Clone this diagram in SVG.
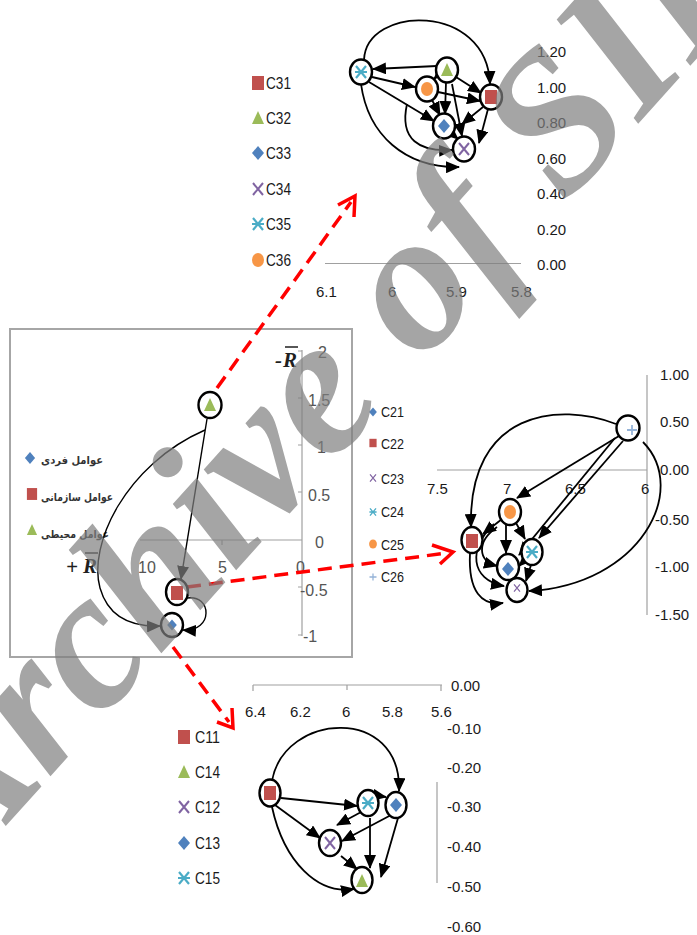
<svg xmlns="http://www.w3.org/2000/svg" xmlns:xlink="http://www.w3.org/1999/xlink" width="697" height="935" viewBox="0 0 697 935">
  <style>
    .node { fill: #ffffff; stroke: #000000; stroke-width: 2.4; }
    .edge { fill: none; stroke: #000000; stroke-width: 1.8; marker-end: url(#arrow); }
    .edge-thin { fill: none; stroke: #000000; stroke-width: 1.4; marker-end: url(#arrow); }
    .axis { stroke: #a0a0a0; stroke-width: 1.2; fill: none; }
    .lbl { font-family: "Liberation Sans", Arial, sans-serif; font-size: 15px; fill: #1a1a1a; }
    .lbl-grey { font-family: "Liberation Sans", Arial, sans-serif; font-size: 16px; fill: #555555; }
    .leg { font-family: "Liberation Sans", Arial, sans-serif; font-size: 16px; fill: #1a1a1a; }
    .leg-s { font-family: "Liberation Sans", Arial, sans-serif; font-size: 14px; fill: #1a1a1a; }
    .fa { font-family: "DejaVu Sans", sans-serif; font-size: 11px; font-weight: bold; fill: #333333; }
    .link { fill: none; stroke: #ff0000; stroke-width: 3.5; stroke-dasharray: 14 8; }
    .chev { fill: none; stroke: #ff0000; stroke-width: 3.5; }
    .rbar { font-family: "Liberation Serif", serif; font-size: 21px; font-weight: bold; font-style: italic; fill: #1f1f1f; }
  </style>
  <defs>
    <marker id="arrow" markerUnits="userSpaceOnUse" markerWidth="14" markerHeight="12" refX="13" refY="6" orient="auto">
      <path d="M0,0 L14,6 L0,12 z" fill="#000000"/>
    </marker>
    <g id="m-sq"><rect x="-6" y="-7" width="12" height="14" fill="#c0504d"/></g>
    <g id="m-tri"><polygon points="0,-7 6,6 -6,6" fill="#9bbb59"/></g>
    <g id="m-dia"><polygon points="0,-7 6,0 0,7 -6,0" fill="#4f81bd"/></g>
    <g id="m-x"><path d="M-5,-6 L5,6 M5,-6 L-5,6" stroke="#8064a2" stroke-width="2" fill="none"/></g>
    <g id="m-ast"><path d="M-5,-6 L5,6 M5,-6 L-5,6 M-6,0 L6,0" stroke="#4bacc6" stroke-width="2.2" fill="none"/></g>
    <g id="m-cir"><ellipse rx="6" ry="7" fill="#f79646"/></g>
    <g id="m-plus"><path d="M-5,0 L5,0 M0,-5 L0,5" stroke="#95b3d7" stroke-width="1.8" fill="none"/></g>
  </defs>

  <rect width="697" height="935" fill="#ffffff"/>

  <!-- ===== Chart C3x (top) ===== -->
  <g id="chart-c3">
    <line class="axis" x1="325" y1="263.5" x2="521" y2="263.5"/>
    <text class="lbl" x="537" y="57">1.20</text>
    <text class="lbl" x="537" y="93">1.00</text>
    <text class="lbl" x="537" y="128">0.80</text>
    <text class="lbl" x="537" y="164">0.60</text>
    <text class="lbl" x="537" y="199">0.40</text>
    <text class="lbl" x="537" y="235">0.20</text>
    <text class="lbl" x="537" y="270">0.00</text>
    <text class="lbl" x="316" y="297">6.1</text>
    <text class="lbl" x="388" y="297">6</text>
    <text class="lbl" x="446" y="297">5.9</text>
    <text class="lbl" x="511" y="297">5.8</text>
    <g id="legend-c3">
      <use href="#m-sq" x="258" y="83"/>
      <text class="leg" x="266" y="89" textLength="25" lengthAdjust="spacingAndGlyphs">C31</text>
      <use href="#m-tri" x="258" y="118"/>
      <text class="leg" x="266" y="124" textLength="25" lengthAdjust="spacingAndGlyphs">C32</text>
      <use href="#m-dia" x="258" y="153"/>
      <text class="leg" x="266" y="159" textLength="25" lengthAdjust="spacingAndGlyphs">C33</text>
      <use href="#m-x" x="258" y="189"/>
      <text class="leg" x="266" y="195" textLength="25" lengthAdjust="spacingAndGlyphs">C34</text>
      <use href="#m-ast" x="258" y="224"/>
      <text class="leg" x="266" y="230" textLength="25" lengthAdjust="spacingAndGlyphs">C35</text>
      <use href="#m-cir" x="258" y="260"/>
      <text class="leg" x="266" y="266" textLength="25" lengthAdjust="spacingAndGlyphs">C36</text>
    </g>
  </g>

  <!-- ===== Chart C2x (right) ===== -->
  <g id="chart-c2">
    <line class="axis" x1="437" y1="470" x2="647" y2="470"/>
    <line class="axis" x1="647" y1="375" x2="647" y2="615"/>
    <text class="lbl" x="660" y="380">1.00</text>
    <text class="lbl" x="660" y="427">0.50</text>
    <text class="lbl" x="660" y="475">0.00</text>
    <text class="lbl" x="655" y="525">-0.50</text>
    <text class="lbl" x="655" y="572">-1.00</text>
    <text class="lbl" x="655" y="620">-1.50</text>
    <text class="lbl" x="427" y="494">7.5</text>
    <text class="lbl" x="503" y="494">7</text>
    <text class="lbl" x="565" y="494">6.5</text>
    <text class="lbl" x="641" y="494">6</text>
    <g id="legend-c2">
      <use href="#m-dia" transform="translate(373,412) scale(0.65)"/>
      <text class="leg-s" x="381" y="417" textLength="23" lengthAdjust="spacingAndGlyphs">C21</text>
      <use href="#m-sq" transform="translate(373,443) scale(0.6)"/>
      <text class="leg-s" x="381" y="449" textLength="23" lengthAdjust="spacingAndGlyphs">C22</text>
      <use href="#m-x" transform="translate(373,478) scale(0.6)"/>
      <text class="leg-s" x="381" y="484" textLength="23" lengthAdjust="spacingAndGlyphs">C23</text>
      <use href="#m-ast" transform="translate(373,512) scale(0.6)"/>
      <text class="leg-s" x="381" y="517" textLength="23" lengthAdjust="spacingAndGlyphs">C24</text>
      <use href="#m-cir" transform="translate(373,544) scale(0.65)"/>
      <text class="leg-s" x="381" y="550" textLength="23" lengthAdjust="spacingAndGlyphs">C25</text>
      <use href="#m-plus" transform="translate(373,577) scale(0.7)"/>
      <text class="leg-s" x="381" y="582" textLength="23" lengthAdjust="spacingAndGlyphs">C26</text>
    </g>
  </g>

  <!-- ===== Overview chart (left) ===== -->
  <g id="chart-main">
    <rect x="10" y="329" width="342" height="328" fill="#ffffff" stroke="#a6a6a6" stroke-width="2"/>
    <line class="axis" x1="140" y1="540" x2="302" y2="540"/>
    <line class="axis" x1="222" y1="540" x2="222" y2="545"/>
    <line class="axis" x1="302" y1="350" x2="302" y2="636"/>
    <path class="axis" d="M298,351 H302 M298,398 H302 M298,445 H302 M298,492 H302 M298,587 H302 M298,635 H302"/>
    <text class="lbl-grey" x="318" y="358">2</text>
    <text class="lbl-grey" x="308" y="406">1.5</text>
    <text class="lbl-grey" x="317" y="453">1</text>
    <text class="lbl-grey" x="308" y="501">0.5</text>
    <text class="lbl-grey" x="315" y="548">0</text>
    <text class="lbl-grey" x="300" y="596">-0.5</text>
    <text class="lbl-grey" x="303" y="642">-1</text>
    <text class="lbl-grey" x="138" y="573">10</text>
    <text class="lbl-grey" x="218" y="573">5</text>
    <text class="lbl-grey" x="296" y="573">0</text>
    <!-- axis direction labels -->
    <text class="rbar" x="275" y="367" font-style="normal">-</text>
    <text class="rbar" x="283" y="367">R</text>
    <line x1="285" y1="347" x2="298" y2="347" stroke="#1f1f1f" stroke-width="1.5"/>
    <text class="rbar" x="66" y="574" font-style="normal" font-weight="normal">+</text>
    <text class="rbar" x="83" y="573">R</text>
    <line x1="85" y1="553" x2="98" y2="553" stroke="#1f1f1f" stroke-width="1.5"/>
    <g id="legend-main">
      <use href="#m-dia" transform="translate(30,458) scale(0.85)"/>
      <text class="fa" x="72" y="464" text-anchor="middle" textLength="62" lengthAdjust="spacingAndGlyphs">عوامل فردی</text>
      <use href="#m-sq" transform="translate(32,494) scale(0.85)"/>
      <text class="fa" x="77" y="501" text-anchor="middle" textLength="72" lengthAdjust="spacingAndGlyphs">عوامل سازمانی</text>
      <use href="#m-tri" transform="translate(32,530) scale(0.85)"/>
      <text class="fa" x="75" y="538" text-anchor="middle" textLength="68" lengthAdjust="spacingAndGlyphs">عوامل محیطی</text>
    </g>
  </g>

  <!-- ===== Chart C1x (bottom) ===== -->
  <g id="chart-c1">
    <line class="axis" x1="253" y1="685" x2="442" y2="685"/>
    <path class="axis" d="M253,685 V691 M347,685 V690 M441,685 V691"/>
    <line class="axis" x1="437" y1="782" x2="437" y2="883"/>
    <text class="lbl" x="245" y="717">6.4</text>
    <text class="lbl" x="290" y="717" fill="#555555">6.2</text>
    <text class="lbl" x="342" y="717" fill="#555555">6</text>
    <text class="lbl" x="382" y="717" fill="#555555">5.8</text>
    <text class="lbl" x="431" y="717">5.6</text>
    <text class="lbl" x="451" y="691">0.00</text>
    <text class="lbl" x="447" y="734">-0.10</text>
    <text class="lbl" x="447" y="773">-0.20</text>
    <text class="lbl" x="447" y="812">-0.30</text>
    <text class="lbl" x="447" y="852">-0.40</text>
    <text class="lbl" x="447" y="892">-0.50</text>
    <text class="lbl" x="447" y="932">-0.60</text>
    <g id="legend-c1">
      <use href="#m-sq" x="184" y="737"/>
      <text class="leg" x="195" y="743" textLength="25" lengthAdjust="spacingAndGlyphs">C11</text>
      <use href="#m-tri" x="184" y="772"/>
      <text class="leg" x="195" y="778" textLength="25" lengthAdjust="spacingAndGlyphs">C14</text>
      <use href="#m-x" x="184" y="807"/>
      <text class="leg" x="195" y="813" textLength="25" lengthAdjust="spacingAndGlyphs">C12</text>
      <use href="#m-dia" x="184" y="843"/>
      <text class="leg" x="195" y="849" textLength="25" lengthAdjust="spacingAndGlyphs">C13</text>
      <use href="#m-ast" x="184" y="878"/>
      <text class="leg" x="195" y="884" textLength="25" lengthAdjust="spacingAndGlyphs">C15</text>
    </g>
  </g>

  <!-- ===== Connectors ===== -->
  <g id="connectors">
    <!-- top chart -->
    <path class="edge" d="M364,60 C366,5 487,2 490,84"/>
    <path class="edge" d="M437,66 L373,69"/>
    <path class="edge" d="M372,77 L415,87"/>
    <path class="edge" d="M369,82 L434,121"/>
    <path class="edge" d="M361,84 C368,135 405,168 459,167"/>
    <path class="edge" d="M407,104 C399,140 420,152 452,150"/>
    <path class="edge" d="M432,100 L440,115"/>
    <path class="edge" d="M441,72 L434,79"/>
    <path class="edge" d="M446,82 L445,114"/>
    <path class="edge" d="M456,77 L481,93"/>
    <path class="edge" d="M438,92 L480,101"/>
    <path class="edge" d="M452,84 L462,136"/>
    <path class="edge" d="M483,107 L462,124"/>
    <path class="edge" d="M488,109 L479,143"/>
    <path class="edge" d="M451,133 L458,139"/>

    <!-- overview chart -->
    <path class="edge-thin" d="M207,419 L181,579"/>
    <path class="edge-thin" d="M205,430 C125,465 88,545 100,588 C108,616 130,627 160,626"/>
    <path class="edge-thin" d="M187,598 C212,594 214,632 183,630"/>

    <!-- right chart -->
    <path class="edge" d="M616,424 C560,402 468,410 471,527"/>
    <path class="edge" d="M619,436 L517,498"/>
    <path class="edge" d="M623,441 L539,538"/>
    <path class="edge" d="M615,438 L519,555"/>
    <path class="edge" d="M643,442 C690,490 640,585 529,591"/>
    <path class="edge" d="M502,519 L483,534"/>
    <path class="edge" d="M516,523 L525,539"/>
    <path class="edge" d="M506,525 L506,553"/>
    <path class="edge" d="M497,527 C476,542 478,561 497,566"/>
    <path class="edge" d="M494,524 C468,548 470,580 504,586"/>
    <path class="edge" d="M470,553 C468,592 482,606 503,603"/>
    <path class="edge" d="M524,561 L519,566"/>
    <path class="edge" d="M531,565 L526,581"/>

    <!-- bottom chart -->
    <path class="edge" d="M272,781 C284,712 402,705 399,791"/>
    <path class="edge" d="M281,798 L357,806"/>
    <path class="edge" d="M275,805 L320,838"/>
    <path class="edge" d="M272,807 C284,862 318,895 354,889"/>
    <path class="edge" d="M374,795 L386,797"/>
    <path class="edge" d="M363,811 L337,825"/>
    <path class="edge" d="M393,814 L342,841"/>
    <path class="edge" d="M370,818 L370,868"/>
    <path class="edge" d="M398,818 L381,877"/>
    <path class="edge" d="M341,856 L357,869"/>

    <!-- dashed links between charts -->
    <path class="link" d="M217,388 L351,202"/>
    <path class="chev" d="M338,205 L355,196 L354,217"/>
    <path class="link" d="M187,587 L447,553"/>
    <path class="chev" d="M432,545 L453,552 L440,564"/>
    <path class="link" d="M173,647 L229,722"/>
    <path class="chev" d="M217,722 L233,728 L232,708"/>
  </g>

  <!-- ===== Nodes ===== -->
  <g id="n-c35"><ellipse class="node" cx="361" cy="72" rx="11" ry="12.5"/><use href="#m-ast" x="361" y="72"/></g>
  <g id="n-c32"><ellipse class="node" cx="447" cy="70" rx="11" ry="12.5"/><use href="#m-tri" x="447" y="70"/></g>
  <g id="n-c36"><ellipse class="node" cx="427" cy="89" rx="11" ry="12.5"/><use href="#m-cir" x="427" y="89"/></g>
  <g id="n-c31"><ellipse class="node" cx="491" cy="97" rx="11" ry="12.5"/><use href="#m-sq" x="491" y="97"/></g>
  <g id="n-c33"><ellipse class="node" cx="444" cy="126" rx="11" ry="12.5"/><use href="#m-dia" x="444" y="126"/></g>
  <g id="n-c34"><ellipse class="node" cx="464" cy="149" rx="11" ry="12.5"/><use href="#m-x" x="464" y="149"/></g>

  <g id="n-env"><ellipse class="node" cx="210" cy="405" rx="11.5" ry="13"/><use href="#m-tri" x="210" y="405"/></g>
  <g id="n-org"><ellipse class="node" cx="177" cy="592" rx="11" ry="13"/><use href="#m-sq" x="177" y="593"/></g>
  <g id="n-ind"><ellipse class="node" cx="172" cy="625" rx="11" ry="12"/><use href="#m-dia" transform="translate(172,625) scale(0.8)"/></g>

  <g id="n-c26"><ellipse class="node" cx="628" cy="428" rx="11.5" ry="12.5"/><use href="#m-plus" x="632" y="430"/></g>
  <g id="n-c25"><ellipse class="node" cx="510" cy="512" rx="11" ry="13"/><use href="#m-cir" x="510" y="512"/></g>
  <g id="n-c22"><ellipse class="node" cx="472" cy="540" rx="10.5" ry="13"/><use href="#m-sq" x="472" y="541"/></g>
  <g id="n-c24"><ellipse class="node" cx="532" cy="552" rx="10.5" ry="13"/><use href="#m-ast" x="532" y="552"/></g>
  <g id="n-c21"><ellipse class="node" cx="508" cy="567" rx="11" ry="13"/><use href="#m-dia" x="508" y="569"/></g>
  <g id="n-c23"><ellipse class="node" cx="517" cy="590" rx="10.5" ry="12"/><use href="#m-x" transform="translate(517,588) scale(0.6)"/></g>

  <g id="n-c11"><ellipse class="node" cx="270" cy="793" rx="10.5" ry="13.5"/><use href="#m-sq" x="270" y="793"/></g>
  <g id="n-c15"><ellipse class="node" cx="368" cy="803" rx="10.5" ry="13"/><use href="#m-ast" x="368" y="803"/></g>
  <g id="n-c13"><ellipse class="node" cx="396" cy="805" rx="10.5" ry="13"/><use href="#m-dia" x="396" y="805"/></g>
  <g id="n-c12"><ellipse class="node" cx="330" cy="843" rx="11" ry="13"/><use href="#m-x" x="330" y="843"/></g>
  <g id="n-c14"><ellipse class="node" cx="362" cy="880" rx="10.5" ry="13"/><use href="#m-tri" x="362" y="881"/></g>

  <!-- watermark -->
  <text transform="translate(-41,878) rotate(-48)" font-family="Liberation Serif, serif" font-weight="bold" font-style="italic" font-size="199" fill="#7f7f7f" opacity="0.7">Archive of SID</text>
</svg>
